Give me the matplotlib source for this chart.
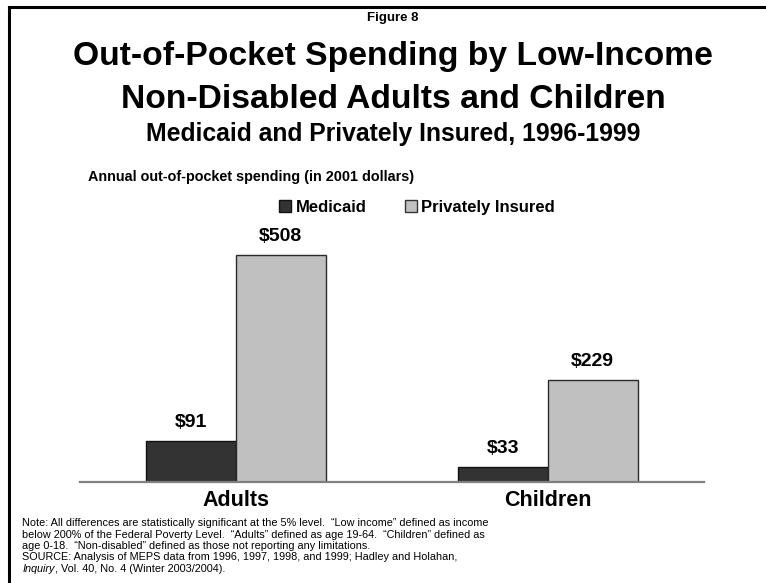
import matplotlib.pyplot as plt
import numpy as np
from matplotlib.patches import Patch

groups = ['Adults', 'Children']
medicaid = [91, 33]
private = [508, 229]
series_names = ['Medicaid', 'Privately Insured']
note_lines = [
    'Note: All differences are statistically significant at the 5% level.  \u201cLow income\u201d defined as income',
    'below 200% of the Federal Poverty Level.  \u201cAdults\u201d defined as age 19-64.  \u201cChildren\u201d defined as',
    'age 0-18.  \u201cNon-disabled\u201d defined as those not reporting any limitations.',
    'SOURCE: Analysis of MEPS data from 1996, 1997, 1998, and 1999; Hadley and Holahan,',
]
journal = 'Inquiry'
journal_rest = ', Vol. 40, No. 4 (Winter 2003/2004).'

plt.rcParams['font.family'] = ['Liberation Sans', 'DejaVu Sans']

W, H = 766, 583
fig = plt.figure(figsize=(W / 100, H / 100), dpi=100)


def fx(px):
    return px / W


def fy(py):
    return 1 - py / H


# slide border (left and top only)
fig.add_artist(plt.Line2D([fx(8.5), fx(8.5)], [0, fy(7)], color='black', lw=2.2))
fig.add_artist(plt.Line2D([fx(8.5), 1], [fy(7), fy(7)], color='black', lw=2.2))

ax = fig.add_axes([fx(80), fy(482), 624 / W, 282 / H])
x = np.arange(len(groups))
w = 0.287
b1 = ax.bar(x - w / 2, medicaid, w, color='#333333', edgecolor='#111111', linewidth=1)
b2 = ax.bar(x + w / 2, private, w, color='#c0c0c0', edgecolor='#2a2a2a', linewidth=1)

for bars, vals in [(b1, medicaid), (b2, private)]:
    for bar, v in zip(bars, vals):
        ax.annotate(f'${v}', (bar.get_x() + bar.get_width() / 2, v), xytext=(0, 13.5),
                    textcoords='offset points', ha='center', va='center',
                    fontsize=14, fontweight='bold')

ax.set_xlim(-0.5, 1.5)
ax.set_ylim(0, 632)
ax.set_xticks(x)
ax.set_xticklabels(groups, fontsize=15.5, fontweight='bold')
ax.tick_params(axis='x', length=0, pad=6)
ax.set_yticks([])
for s in ['top', 'right', 'left']:
    ax.spines[s].set_visible(False)
ax.spines['bottom'].set_color('#808080')
ax.spines['bottom'].set_linewidth(1.6)

# titles
cx = fx(393)
fig.text(cx, fy(18), 'Figure 8', ha='center', va='center', fontsize=9.5, fontweight='bold')
fig.text(cx, fy(65), 'Out-of-Pocket Spending by Low-Income', ha='center', va='baseline',
         fontsize=24.2, fontweight='bold')
fig.text(cx, fy(108.5), 'Non-Disabled Adults and Children', ha='center', va='baseline',
         fontsize=24.2, fontweight='bold')
fig.text(cx, fy(141), 'Medicaid and Privately Insured, 1996-1999', ha='center', va='baseline',
         fontsize=17.8, fontweight='bold')
fig.text(fx(87.5), fy(177), 'Annual out-of-pocket spending (in 2001 dollars)', ha='left',
         va='center', fontsize=10.4, fontweight='bold')

handles = [Patch(facecolor='#333333', edgecolor='#111111'),
           Patch(facecolor='#c0c0c0', edgecolor='#333333')]
fig.legend(handles, series_names, loc='center', bbox_to_anchor=(fx(417), fy(207)),
           ncol=2, frameon=False, prop={'weight': 'bold', 'size': 12},
           handlelength=0.75, handleheight=0.75, handletextpad=0.25, columnspacing=2.3,
           borderpad=0)

# note
note_y = [523, 534.5, 546, 557.5]
for line, yy in zip(note_lines, note_y):
    fig.text(fx(22.5), fy(yy), line, ha='left', va='center', fontsize=7.85)
t = fig.text(fx(22.5), fy(569), journal, ha='left', va='center', fontsize=7.85, style='italic')
fig.canvas.draw()
bb = t.get_window_extent()
fig.text(bb.x1 / fig.bbox.width, fy(569), journal_rest, ha='left', va='center', fontsize=7.85)

fig.savefig('out.png', dpi=100)
